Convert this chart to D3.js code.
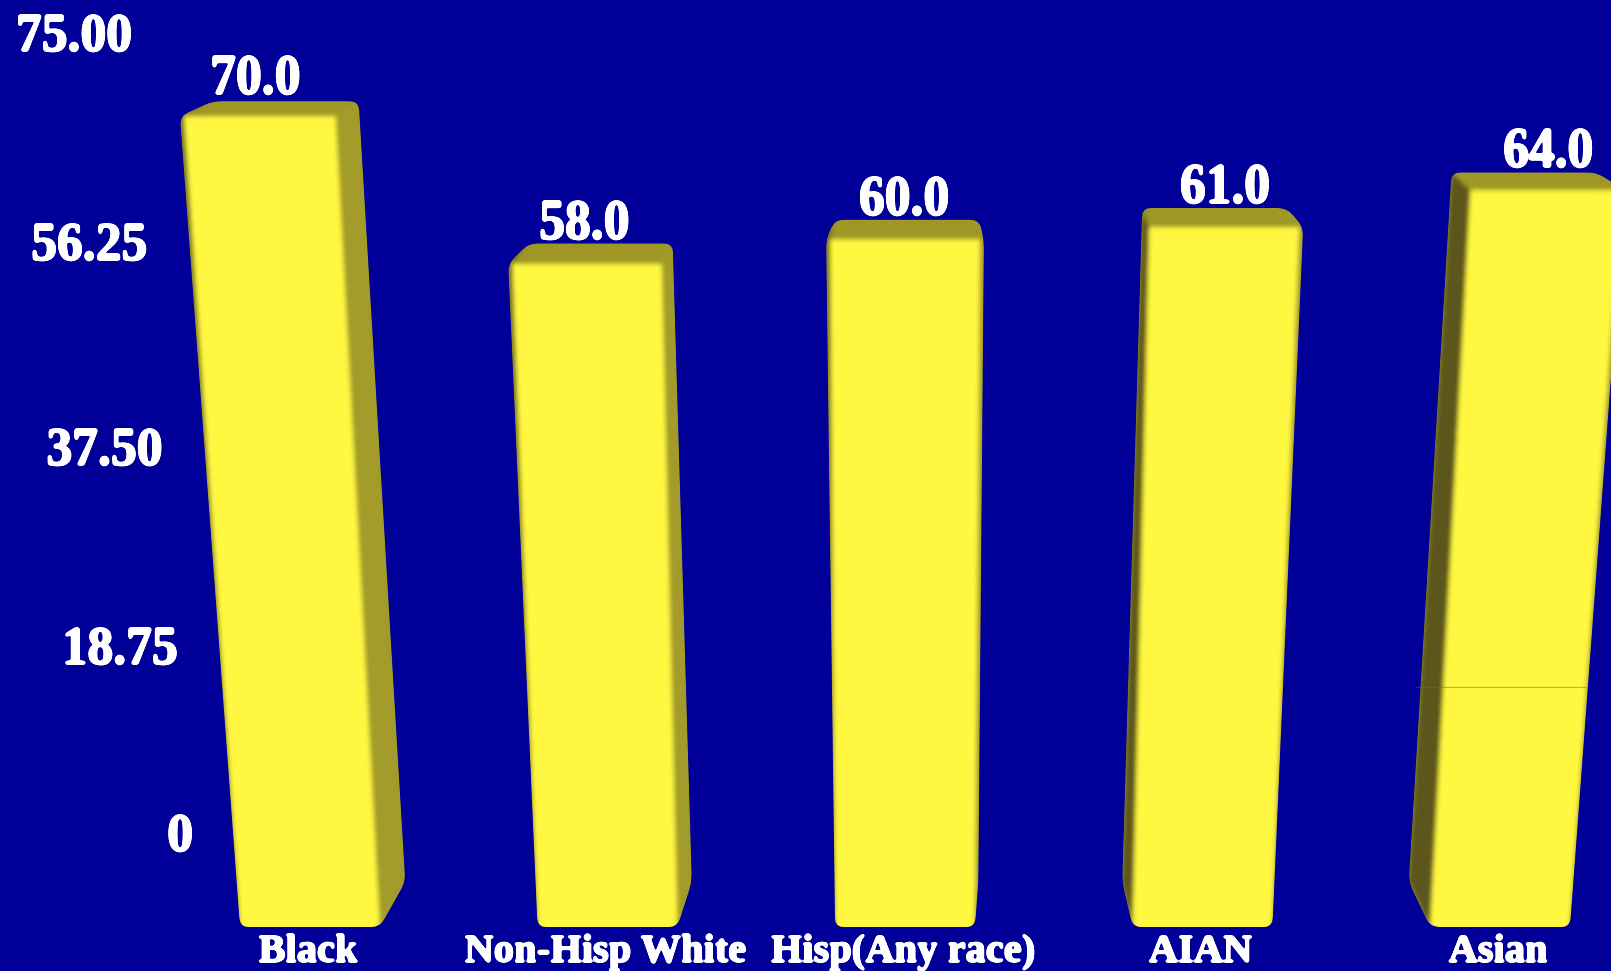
<!DOCTYPE html>
<html>
<head>
<meta charset="utf-8">
<script src="https://cdnjs.cloudflare.com/ajax/libs/d3/7.8.5/d3.min.js"></script>
<style>
  html, body { margin: 0; padding: 0; background: #000099; overflow: hidden; }
  svg { display: block; }
  text { font-family: "Liberation Serif", serif; font-weight: 700; fill: #fff; }
</style>
</head>
<body>
<svg id="chart" width="1611" height="971"></svg>
<script>
// Chart content
const categories = ["Black", "Non-Hisp White", "Hisp(Any race)", "AIAN", "Asian"];
const values = [70.0, 58.0, 60.0, 61.0, 64.0];
const tickValues = [0, 18.75, 37.5, 56.25, 75];
const tickLabels = ["0", "18.75", "37.50", "56.25", "75.00"];
const seamValue = 22.4;

// Camera of the 3D column scene
const groundY = 927;
const verticalVanishX = 905;
const verticalSpread = 1.04e-4;
const depthVanish = { x: 960, y: -289 };
const depthFactor = 0.037;
const bevel = 4;
const cornerRadius = 9;

const colors = {
  background: "#000099",
  front: "#fff740",
  top: "#9f9728",
  rightSide: "#a39b2b",
  leftSide: "#5d571e"
};

const svg = d3.select("#chart");

// Scales: bars in the scene, value labels above them, axis text on the back wall
const xBand = d3.scaleBand().domain(categories).range([240, 1570]).paddingInner(0.53);
const yValue = d3.scalePow().exponent(1.07).domain([0, 75]).range([groundY, 54]);
const yLabel = d3.scaleLinear().domain([0, 75]).range([940, 34]);
const yAxisWall = d3.scalePow().exponent(1.05).domain([0, 75]).range([851, 51]);
const xAxisWall = d3.scaleLinear().domain([0, 75]).range([193, 132]);

// Project a scene point: worldX along the floor, value up, depth 0 (front) to 1 (back)
function project(worldX, value, depth) {
  const y0 = yValue(value);
  const x0 = verticalVanishX + (worldX - verticalVanishX) * (1 + verticalSpread * (groundY - y0));
  const f = depth * depthFactor;
  return [x0 + (depthVanish.x - x0) * f, y0 + (depthVanish.y - y0) * f];
}

const defs = svg.append("defs");
defs.append("filter").attr("id", "soft").attr("x", "-5%").attr("y", "-5%").attr("width", "110%").attr("height", "110%")
  .append("feGaussianBlur").attr("stdDeviation", 2);

// Hard-edged, swollen glyphs like a low resolution raster font
const blocky = defs.append("filter").attr("id", "blocky")
  .attr("x", "-5%").attr("y", "-10%").attr("width", "110%").attr("height", "120%");
blocky.append("feGaussianBlur").attr("stdDeviation", 1.1).attr("result", "b");
blocky.append("feComponentTransfer").append("feFuncA").attr("type", "linear").attr("slope", 6).attr("intercept", -0.8);

const polygonPath = pts => "M" + pts.map(p => p.join(",")).join("L") + "Z";
const shift = (p, dx) => [p[0] + dx, p[1]];

// Closed outline whose corners are eased with a quadratic curve
function roundedPath(pts, r) {
  const n = pts.length;
  let d = "";
  pts.forEach((p, i) => {
    const prev = pts[(i + n - 1) % n], next = pts[(i + 1) % n];
    const toward = (q) => {
      const len = Math.hypot(q[0] - p[0], q[1] - p[1]);
      const t = Math.min(r, len / 2) / (len || 1);
      return [p[0] + (q[0] - p[0]) * t, p[1] + (q[1] - p[1]) * t];
    };
    const a = toward(prev), b = toward(next);
    d += (i === 0 ? "M" : "L") + a.join(",") + "Q" + p.join(",") + " " + b.join(",");
  });
  return d + "Z";
}

svg.append("rect").attr("width", 1611).attr("height", 971).attr("fill", colors.background);

// Columns
categories.forEach((name, i) => {
  const v = values[i];
  const x0 = xBand(name), x1 = x0 + xBand.bandwidth();
  const ftl = project(x0, v, 0), ftr = project(x1, v, 0);
  const fbl = project(x0, 0, 0), fbr = project(x1, 0, 0);
  const btl = project(x0, v, 1), btr = project(x1, v, 1);
  const bbl = project(x0, 0, 1), bbr = project(x1, 0, 1);

  const leftHull = d3.polygonHull([ftl, btl, bbl, fbl, shift(ftl, -bevel), shift(bbl, -bevel)]);
  const rightHull = d3.polygonHull([ftr, btr, bbr, fbr, shift(ftr, bevel), shift(bbr, bevel)]);
  const silhouette = d3.polygonHull([...leftHull, ...rightHull]);
  const outline = roundedPath(silhouette, cornerRadius);

  const clipId = "bar-clip-" + i;
  defs.append("clipPath").attr("id", clipId).append("path").attr("d", outline);

  const bar = svg.append("g").attr("clip-path", `url(#${clipId})`);
  bar.append("path").attr("d", outline).attr("fill", colors.top);

  const faces = bar.append("g").attr("filter", "url(#soft)");
  faces.append("path").attr("d", polygonPath(leftHull)).attr("fill", colors.leftSide);
  faces.append("path").attr("d", polygonPath(rightHull)).attr("fill", colors.rightSide);
  faces.append("path").attr("d", polygonPath([ftl, btl, btr, ftr])).attr("fill", colors.top);
  // the front face runs slightly below the floor so the clip gives it a crisp lower edge
  faces.append("path")
    .attr("d", polygonPath([ftl, ftr, project(x1, -1, 0), project(x0, -1, 0)]))
    .attr("fill", colors.front);
});

// Faint seam across the last column
{
  const name = categories[4];
  const a = project(xBand(name), seamValue, 0);
  const b = project(xBand(name) + xBand.bandwidth(), seamValue, 0);
  svg.append("line")
    .attr("x1", a[0] - 27).attr("x2", b[0])
    .attr("y1", a[1]).attr("y2", a[1])
    .attr("stroke", "#6e6a30").attr("stroke-opacity", 0.5).attr("stroke-width", 1);
}

// Value axis text, leaning with the back wall
const axisG = svg.append("g").attr("filter", "url(#blocky)")
  .call(d3.axisLeft(yAxisWall).tickValues(tickValues).tickSize(0)
    .tickFormat(d => tickLabels[tickValues.indexOf(d)]));
axisG.select(".domain").remove();
axisG.selectAll(".tick")
  .attr("transform", d => `translate(${xAxisWall(d)},${yAxisWall(d)}) scale(1,1.07)`);
axisG.selectAll(".tick text")
  .attr("x", 0).attr("dy", 0).attr("text-anchor", "end")
  .style("font-size", "51.5px");

// Value labels above the columns
const labelSpread = 1.044;
svg.append("g").attr("filter", "url(#blocky)").selectAll("text").data(categories).join("text")
  .attr("text-anchor", "middle")
  .style("font-size", "51.5px")
  .attr("transform", (name, i) => {
    const cx = xBand(name) + xBand.bandwidth() / 2;
    const back = project(cx, values[i], 1);
    const x = verticalVanishX + (back[0] - verticalVanishX) * labelSpread - 3;
    return `translate(${x},${yLabel(values[i])}) scale(1,1.12)`;
  })
  .text((name, i) => values[i].toFixed(1));

// Category labels under the columns
svg.append("g").attr("filter", "url(#blocky)").selectAll("text").data(categories).join("text")
  .attr("text-anchor", "middle")
  .style("font-size", "40.5px")
  .attr("transform", name => `translate(${xBand(name) + xBand.bandwidth() / 2 - 2},962)`)
  .text(name => name);
</script>
</body>
</html>
